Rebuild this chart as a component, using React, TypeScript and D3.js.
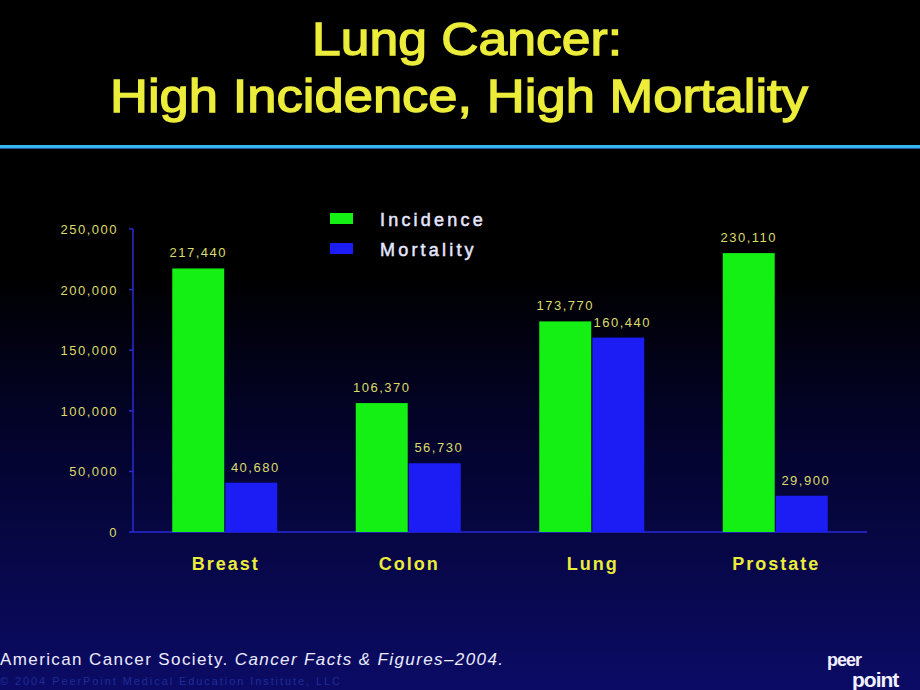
import React from "react";
import * as d3 from "d3";

const categories = ["Breast", "Colon", "Lung", "Prostate"];
const seriesNames = ["Incidence", "Mortality"];
const incidence = [217440, 106370, 173770, 230110];
const mortality = [40680, 56730, 160440, 29900];
const yTicks = [0, 50000, 100000, 150000, 200000, 250000];

const W = 920;
const H = 690;
const YELLOW = "#ecec3a";
const LABEL_YELLOW = "#dcdc6a";
const GREEN = "#14f014";
const BLUE = "#1c1cf4";
const AXIS = "#2a2ad8";

export default function App() {
  const x0 = d3.scaleBand<string>().domain(categories).range([133, 867]).padding(0);
  const groupW = 105;
  const x1 = d3.scaleBand<string>().domain(seriesNames).range([0, groupW]).paddingInner(0.02);
  const y = d3.scaleLinear().domain([0, 250000]).range([532, 229]);
  const fmt = d3.format(",");
  const values = [incidence, mortality];
  const colors = [GREEN, BLUE];
  const groupOffset = (x0.bandwidth() - groupW) / 2;

  return (
    <svg
      width={W}
      height={H}
      style={{ position: "fixed", left: 0, top: 0, display: "block" }}
      fontFamily="'Liberation Sans', Arial, sans-serif"
    >
      <defs>
        <linearGradient id="bg" x1="0" y1="0" x2="0" y2="1">
          <stop offset="0" stopColor="#000000" />
          <stop offset="0.4" stopColor="#000000" />
          <stop offset="0.62" stopColor="#03032a" />
          <stop offset="1" stopColor="#0b0b66" />
        </linearGradient>
      </defs>
      <rect x={0} y={0} width={W} height={H} fill="url(#bg)" />

      {/* Title */}
      <text x={467} y={55} textAnchor="middle" fill={YELLOW} stroke={YELLOW} strokeWidth={1.3}
        fontSize={47} textLength={310} lengthAdjust="spacingAndGlyphs">Lung Cancer:</text>
      <text x={459} y={112} textAnchor="middle" fill={YELLOW} stroke={YELLOW} strokeWidth={1.3}
        fontSize={47} textLength={698} lengthAdjust="spacingAndGlyphs">High Incidence, High Mortality</text>
      <rect x={0} y={145} width={W} height={3} fill="#38b4f0" />
      <rect x={0} y={148} width={W} height={1} fill="#1a5a90" />

      {/* Y axis */}
      <line x1={133} x2={133} y1={y(250000)} y2={y(0)} stroke={AXIS} strokeWidth={1.5} />
      {yTicks.map((t) => (
        <g key={t}>
          <line x1={129} x2={133} y1={y(t)} y2={y(t)} stroke={AXIS} strokeWidth={1.5} />
          <text x={118} y={y(t) + 5} textAnchor="end" fill={LABEL_YELLOW} fontSize={13}
            letterSpacing={1.5}>{fmt(t)}</text>
        </g>
      ))}
      {/* X axis */}
      <line x1={133} x2={867} y1={y(0)} y2={y(0)} stroke={AXIS} strokeWidth={1.5} />

      {/* Bars */}
      {categories.map((c, i) => (
        <g key={c} transform={`translate(${(x0(c) as number) + groupOffset},0)`}>
          {seriesNames.map((s, j) => {
            const v = values[j][i];
            const bx = x1(s) as number;
            return (
              <g key={s}>
                <rect x={bx} y={y(v)} width={x1.bandwidth()} height={y(0) - y(v)} fill={colors[j]} />
                <text x={bx + x1.bandwidth() / 2 + (j === 1 ? 4 : 0)} y={y(v) - 11} textAnchor="middle"
                  fill={LABEL_YELLOW} fontSize={13} letterSpacing={1.5}>{fmt(v)}</text>
              </g>
            );
          })}
          <text x={x0.bandwidth() / 2 - groupOffset + 1} y={570} textAnchor="middle" fill={YELLOW}
            fontSize={18} fontWeight="bold" letterSpacing={2}>{c}</text>
        </g>
      ))}

      {/* Legend */}
      {seriesNames.map((s, j) => (
        <g key={s} transform={`translate(330,${213 + j * 30})`}>
          <rect x={0} y={0} width={23} height={11} fill={colors[j]} />
          <text x={50} y={13} fill="#e6e6ff" stroke="#e6e6ff" strokeWidth={0.5} fontSize={18}
            letterSpacing={3.2}>{s}</text>
        </g>
      ))}

      {/* Footer */}
      <text x={0} y={665} fill="#ececff" fontSize={17} textLength={503} lengthAdjust="spacing">
        American Cancer Society. <tspan fontStyle="italic">Cancer Facts &amp; Figures–2004.</tspan>
      </text>
      <text x={0} y={685} fill="#1e2c96" fontSize={11} textLength={340} lengthAdjust="spacing">© 2004 PeerPoint Medical Education Institute, LLC</text>
      <text x={827} y={666} fill="#f0f0ff" fontSize={18} fontWeight="bold" letterSpacing={-1}>peer</text>
      <text x={852} y={687} fill="#f0f0ff" fontSize={21} fontWeight="bold" letterSpacing={-1}>point</text>
    </svg>
  );
}
